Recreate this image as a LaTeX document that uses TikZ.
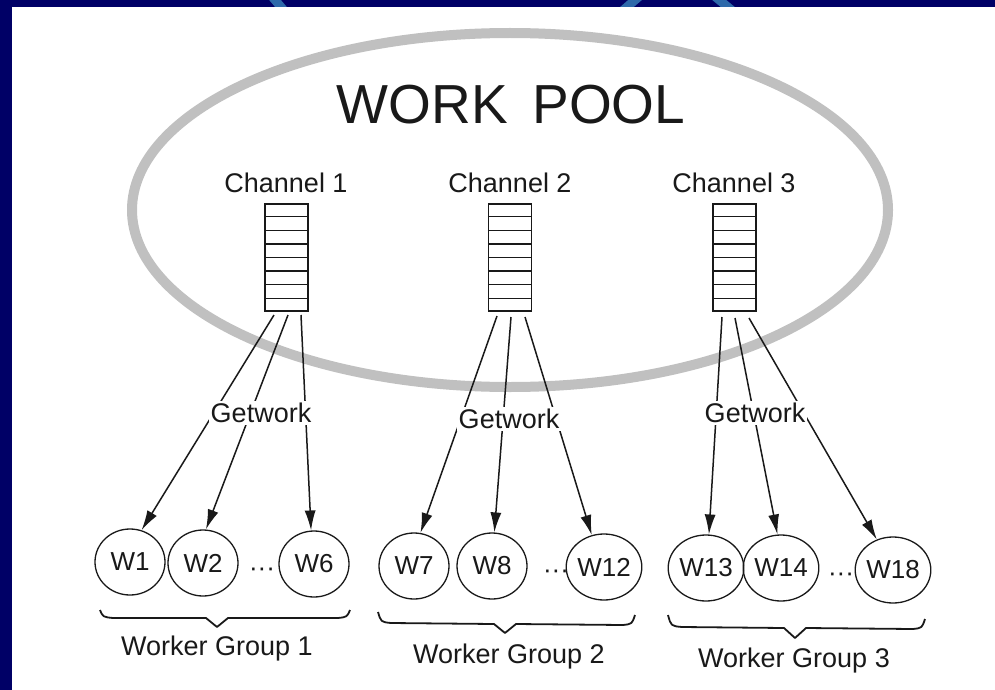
\documentclass[tikz,border=0pt]{standalone}
\usepackage{fontspec}
\setmainfont{Liberation Sans}
\usetikzlibrary{arrows.meta,shapes.geometric,calc}
\definecolor{navy}{RGB}{0,0,102}
\definecolor{bandblue}{RGB}{45,105,170}
\definecolor{ink}{RGB}{25,25,25}
\definecolor{poolgray}{RGB}{192,192,192}
\begin{document}
\begin{tikzpicture}[x=1pt,y=-1pt,
  lbl/.style={font=\fontsize{27}{30}\selectfont, text=ink, inner sep=1pt},
  glbl/.style={lbl, fill=white, inner sep=2pt},
  title/.style={font=\fontsize{55}{60}\selectfont, text=ink, inner sep=0pt},
  queue/.style={draw=ink, line width=1.3pt, minimum width=43pt, minimum height=107pt, inner sep=0pt},
  cell/.style={draw=ink, line width=1.1pt},
  worker/.style={ellipse, draw=ink, line width=1.3pt, minimum width=70pt, minimum height=66pt, inner sep=0pt, font=\fontsize{26}{28}\selectfont, text=ink},
  arr/.style={draw=ink, line width=1.5pt, -{Latex[length=20pt,width=11pt]}},
  brace/.style={draw=ink, line width=1.8pt, line join=round},
  dotsl/.style={font=\fontsize{26}{28}\selectfont, text=ink, inner sep=0pt},
  pool/.style={ellipse, draw=poolgray, line width=10pt, minimum width=756pt, minimum height=354pt, inner sep=0pt},
  bandarc/.style={draw=bandblue, line width=9pt}
]
\useasboundingbox (0,0) rectangle (995,690);
\fill[navy] (0,0) rectangle (995,690);
\fill[white] (12,7) rectangle (995,690);
\begin{scope}
  \clip (12,0) rectangle (995,7);
  \draw[bandarc] (270,-6) -- (286,13);
  \draw[bandarc] (642,-6) -- (620,13);
  \draw[bandarc] (712,-6) -- (735,13);
\end{scope}

% work pool
\node[pool] (pool) at (510,210) {};
\node[title] (wp) at (511,105) {WORK\hspace{0.45em}POOL};

% channels
\node[lbl] (c1) at (286,183) {Channel 1};
\node[lbl] (c2) at (510,183) {Channel 2};
\node[lbl] (c3) at (734,183) {Channel 3};
\node[queue] (q1) at (286.5,257.5) {};
\node[queue] (q2) at (510,257.5) {};
\node[queue] (q3) at (734.5,257.5) {};
\foreach \q in {q1,q2,q3}{
  \foreach \k in {1,...,7}{
    \draw[cell] ($(\q.north west)!\k/8!(\q.south west)$) -- ($(\q.north east)!\k/8!(\q.south east)$);
  }
}

% workers
\node[worker] (w1)  at (130,562) {W1};
\node[worker] (w2)  at (203,563) {W2};
\node[worker] (w6)  at (314,564) {W6};
\node[worker] (w7)  at (414,566) {W7};
\node[worker] (w8)  at (492,566) {W8};
\node[worker] (w12) at (604,567) {W12};
\node[worker] (w13) at (706,568) {W13};
\node[worker] (w14) at (781,568) {W14};
\node[worker] (w18) at (893,570) {W18};
\node[dotsl] (d1) at (262,572) {···};
\node[dotsl] (d2) at (556,574) {···};
\node[dotsl] (d3) at (841,577) {···};

% arrow start points
\coordinate (s11) at (274,315);
\coordinate (s12) at (288,315);
\coordinate (s13) at (301,315);
\coordinate (s21) at (497,316);
\coordinate (s22) at (511,317);
\coordinate (s23) at (525,317);
\coordinate (s31) at (722,317);
\coordinate (s32) at (735,318);
\coordinate (s33) at (749,318);

\draw[arr] (s11) -- (w1.70);
\draw[arr] (s12) -- (w2.85);
\draw[arr] (s13) -- (w6.95);
\draw[arr] (s21) -- (w7.79);
\draw[arr] (s22) -- (w8.86);
\draw[arr] (s23) -- (w12.111);
\draw[arr] (s31) -- (w13.85);
\draw[arr] (s32) -- (w14.96);
\draw[arr] (s33) -- (w18.118);

\node[glbl] (g1) at (261,413) {Getwork};
\node[glbl] (g2) at (509,419) {Getwork};
\node[glbl] (g3) at (755,413) {Getwork};

% braces
\draw[brace] (100,610) .. controls (103,617) .. (113,618) -- (206,618) -- (217,627) -- (228,618) -- (338,618) .. controls (347,617) .. (350,610);
\draw[brace] (378,612) .. controls (381,622) .. (391,623) -- (494,624) -- (505,633) -- (516,624) -- (623,625) .. controls (632,624) .. (635,615);
\draw[brace] (668,615) .. controls (671,626) .. (682,627) -- (784,628) -- (795,638) -- (806,628) -- (913,629) .. controls (922,628) .. (925,619);

\node[lbl] (wg1) at (217,649) {Worker Group 1};
\node[lbl] (wg2) at (509,657) {Worker Group 2};
\node[lbl] (wg3) at (794,661) {Worker Group 3};
\end{tikzpicture}
\end{document}
